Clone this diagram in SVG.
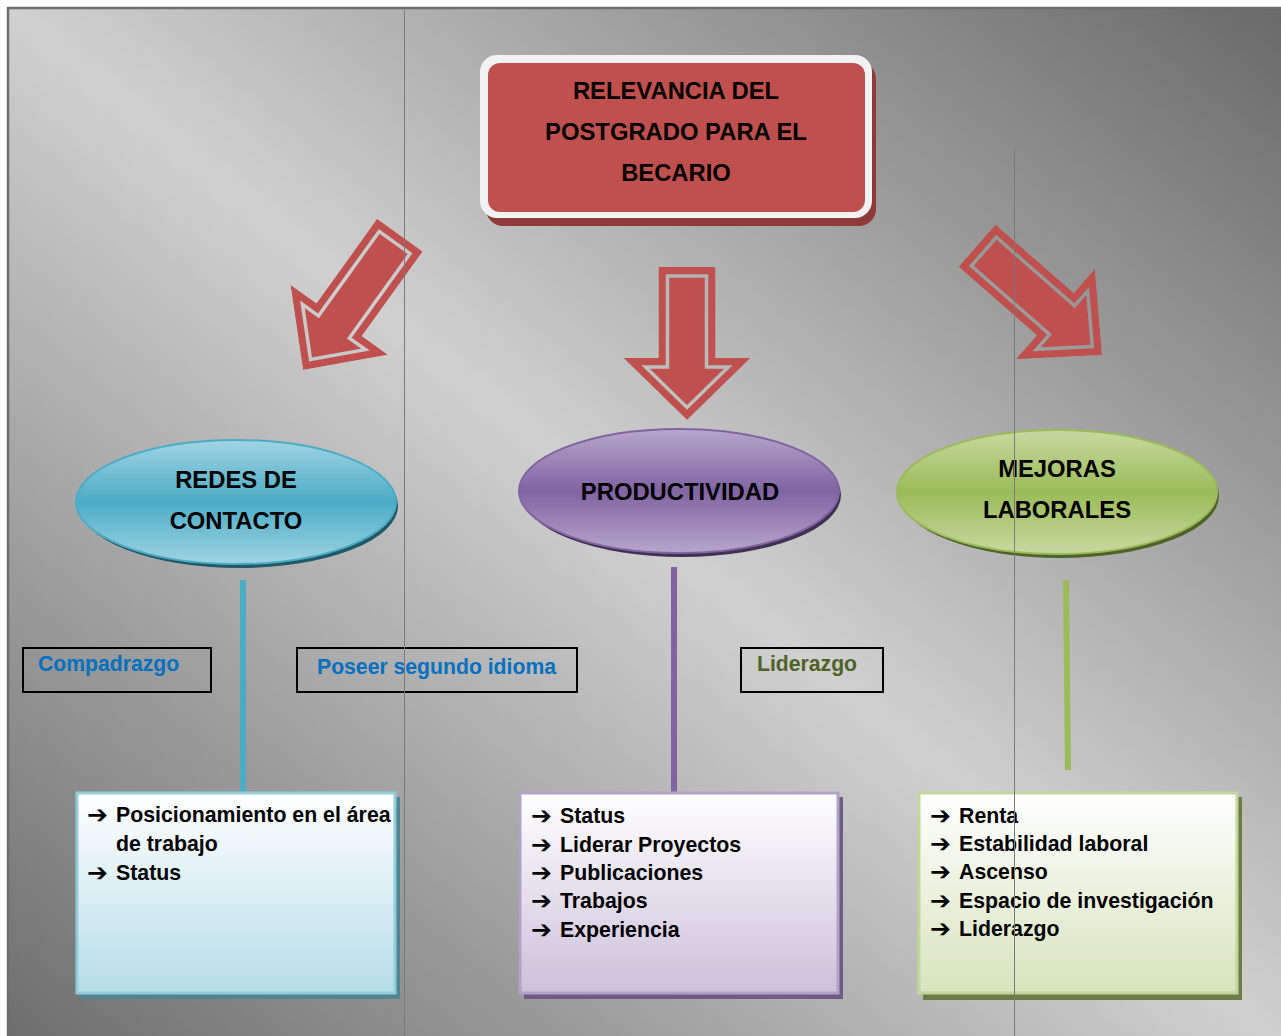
<svg xmlns="http://www.w3.org/2000/svg" width="1281" height="1036" viewBox="0 0 1281 1036">
<defs>
<style>
.t{font-family:"Liberation Sans",Arial,sans-serif;font-weight:bold;fill:#000}
.big{font-size:23.8px;text-anchor:middle}
.item{font-size:21.3px}
.bul{font-family:"DejaVu Sans",sans-serif;font-weight:bold;font-size:25px;fill:#000}
.lbl{font-family:"Liberation Sans",Arial,sans-serif;font-weight:bold;font-size:21.2px}
.lbox{fill:none;stroke:#000;stroke-width:2}
.arrow{fill:#c0504d}
.guide{stroke:#7a7a7a;stroke-width:1}
</style>
<linearGradient id="bg" x1="0" y1="1" x2="1" y2="0">
<stop offset="0" stop-color="#6c6c6c"/>
<stop offset="0.5" stop-color="#d0d0d0"/>
<stop offset="1" stop-color="#686868"/>
</linearGradient>
<linearGradient id="gBlue" x1="0" y1="0" x2="0" y2="1">
<stop offset="0" stop-color="#a0d4e2"/>
<stop offset="0.5" stop-color="#4bacc6"/>
<stop offset="1" stop-color="#a0d4e2"/>
</linearGradient>
<linearGradient id="gPurple" x1="0" y1="0" x2="0" y2="1">
<stop offset="0" stop-color="#b7a6cb"/>
<stop offset="0.5" stop-color="#8064a2"/>
<stop offset="1" stop-color="#b7a6cb"/>
</linearGradient>
<linearGradient id="gGreen" x1="0" y1="0" x2="0" y2="1">
<stop offset="0" stop-color="#c6d9a0"/>
<stop offset="0.5" stop-color="#9bbb59"/>
<stop offset="1" stop-color="#c6d9a0"/>
</linearGradient>
<linearGradient id="bBlue" x1="0" y1="0" x2="0" y2="1">
<stop offset="0" stop-color="#ffffff"/>
<stop offset="1" stop-color="#b6dde8"/>
</linearGradient>
<linearGradient id="bPurple" x1="0" y1="0" x2="0" y2="1">
<stop offset="0" stop-color="#ffffff"/>
<stop offset="1" stop-color="#ccc0da"/>
</linearGradient>
<linearGradient id="bGreen" x1="0" y1="0" x2="0" y2="1">
<stop offset="0" stop-color="#ffffff"/>
<stop offset="1" stop-color="#d7e4bd"/>
</linearGradient>
<mask id="mDown" maskUnits="userSpaceOnUse" x="-80" y="-180" width="160" height="190">
<polygon points="-28.5,-153 28.5,-153 28.5,-62 63.5,-62 0,0 -63.5,-62 -28.5,-62" fill="#fff"/>
<polygon points="-19.5,-144 19.5,-144 19.5,-53 41.4,-53 0,-12.6 -41.4,-53 -19.5,-53" fill="none" stroke="#000" stroke-width="3.5"/>
</mask>
<mask id="mDiag" maskUnits="userSpaceOnUse" x="-80" y="-190" width="160" height="200">
<polygon points="-28,-166 28,-166 28,-62 60,-62 0,0 -60,-62 -28,-62" fill="#fff"/>
<polygon points="-19,-157 19,-157 19,-53 38.8,-53 0,-12.9 -38.8,-53 -19,-53" fill="none" stroke="#000" stroke-width="3.5"/>
</mask>
</defs>

<rect x="0" y="0" width="1281" height="1036" fill="#ffffff"/>
<rect x="8" y="8" width="1290" height="1050" fill="url(#bg)" stroke="#6e6e6e" stroke-width="2.5"/>

<g id="title">
<rect x="486" y="62" width="390" height="164" rx="17" fill="#8f3a38"/>
<rect x="480" y="55" width="392" height="163" rx="17" fill="#f2f2f2"/>
<rect x="488" y="63" width="377" height="149" rx="12" fill="#c0504d"/>
<text class="t big" x="676" y="99">RELEVANCIA DEL</text>
<text class="t big" x="676" y="140">POSTGRADO PARA EL</text>
<text class="t big" x="676" y="181">BECARIO</text>
</g>

<g id="connectors">
<g id="arrow-left" transform="translate(303,370) rotate(35.7)">
<polygon class="arrow" mask="url(#mDiag)" points="-28,-166 28,-166 28,-62 60,-62 0,0 -60,-62 -28,-62"/>
</g>
<g id="arrow-mid" transform="translate(687,420)">
<polygon class="arrow" mask="url(#mDown)" points="-28.5,-153 28.5,-153 28.5,-62 63.5,-62 0,0 -63.5,-62 -28.5,-62"/>
</g>
<g id="arrow-right" transform="translate(1102,355) rotate(-48.8)">
<polygon class="arrow" mask="url(#mDiag)" points="-28,-166 28,-166 28,-62 60,-62 0,0 -60,-62 -28,-62"/>
</g>
<line x1="243" y1="580" x2="243" y2="793" stroke="#4bacc6" stroke-width="6"/>
<line x1="674" y1="567" x2="674" y2="793" stroke="#8064a2" stroke-width="6"/>
<line x1="1066" y1="580" x2="1068" y2="770" stroke="#9bbb59" stroke-width="6"/>
</g>

<g id="redes">
<ellipse cx="239" cy="506" rx="159" ry="62" fill="#215968"/>
<ellipse cx="236" cy="502" rx="160" ry="62" fill="url(#gBlue)" stroke="#4bacc6" stroke-width="2"/>
<text class="t big" x="236" y="488">REDES DE</text>
<text class="t big" x="236" y="529">CONTACTO</text>
</g>
<g id="productividad">
<ellipse cx="682" cy="495" rx="159" ry="62" fill="#3f3151"/>
<ellipse cx="679" cy="491" rx="160" ry="62" fill="url(#gPurple)" stroke="#8064a2" stroke-width="2"/>
<text class="t big" x="680" y="500">PRODUCTIVIDAD</text>
</g>
<g id="mejoras">
<ellipse cx="1060" cy="496" rx="159" ry="62" fill="#4f6228"/>
<ellipse cx="1057" cy="492" rx="160" ry="62" fill="url(#gGreen)" stroke="#9bbb59" stroke-width="2"/>
<text class="t big" x="1057" y="477">MEJORAS</text>
<text class="t big" x="1057" y="518">LABORALES</text>
</g>

<g id="lbl-compadrazgo">
<rect class="lbox" x="23" y="648" width="188" height="44"/>
<text class="lbl" x="38" y="671" fill="#0070c0">Compadrazgo</text>
</g>
<g id="lbl-idioma">
<rect class="lbox" x="297" y="648" width="280" height="44"/>
<text class="lbl" x="317" y="674" fill="#0070c0">Poseer segundo idioma</text>
</g>
<g id="lbl-liderazgo">
<rect class="lbox" x="741" y="648" width="142" height="44"/>
<text class="lbl" x="757" y="671" fill="#4f6228">Liderazgo</text>
</g>

<g id="box-redes">
<rect x="81" y="797" width="319" height="202" fill="#4f8593"/>
<rect x="77" y="793" width="318" height="200" fill="url(#bBlue)" stroke="#92cddc" stroke-width="3"/>
<text class="bul" x="87" y="823">➔</text><text class="t item" x="116" y="822">Posicionamiento en el área</text>
<text class="t item" x="116" y="851">de trabajo</text>
<text class="bul" x="87" y="881">➔</text><text class="t item" x="116" y="880">Status</text>
</g>
<g id="box-productividad">
<rect x="524" y="797" width="319" height="202" fill="#6d5c86"/>
<rect x="520" y="793" width="318" height="200" fill="url(#bPurple)" stroke="#b3a2c7" stroke-width="3"/>
<text class="bul" x="531" y="824">➔</text><text class="t item" x="560" y="823">Status</text>
<text class="bul" x="531" y="853">➔</text><text class="t item" x="560" y="852">Liderar Proyectos</text>
<text class="bul" x="531" y="881">➔</text><text class="t item" x="560" y="880">Publicaciones</text>
<text class="bul" x="531" y="909">➔</text><text class="t item" x="560" y="908">Trabajos</text>
<text class="bul" x="531" y="938">➔</text><text class="t item" x="560" y="937">Experiencia</text>
</g>
<g id="box-mejoras">
<rect x="923" y="797" width="319" height="203" fill="#6b7d44"/>
<rect x="919" y="793" width="318" height="200" fill="url(#bGreen)" stroke="#c3d69b" stroke-width="3"/>
<text class="bul" x="930" y="824">➔</text><text class="t item" x="959" y="823">Renta</text>
<text class="bul" x="930" y="852">➔</text><text class="t item" x="959" y="851">Estabilidad laboral</text>
<text class="bul" x="930" y="880">➔</text><text class="t item" x="959" y="879">Ascenso</text>
<text class="bul" x="930" y="909">➔</text><text class="t item" x="959" y="908">Espacio de investigación</text>
<text class="bul" x="930" y="937">➔</text><text class="t item" x="959" y="936">Liderazgo</text>
</g>

<line class="guide" x1="404.5" y1="10" x2="404.5" y2="1036"/>
<line class="guide" x1="1014.5" y1="150" x2="1014.5" y2="1036"/>
</svg>
